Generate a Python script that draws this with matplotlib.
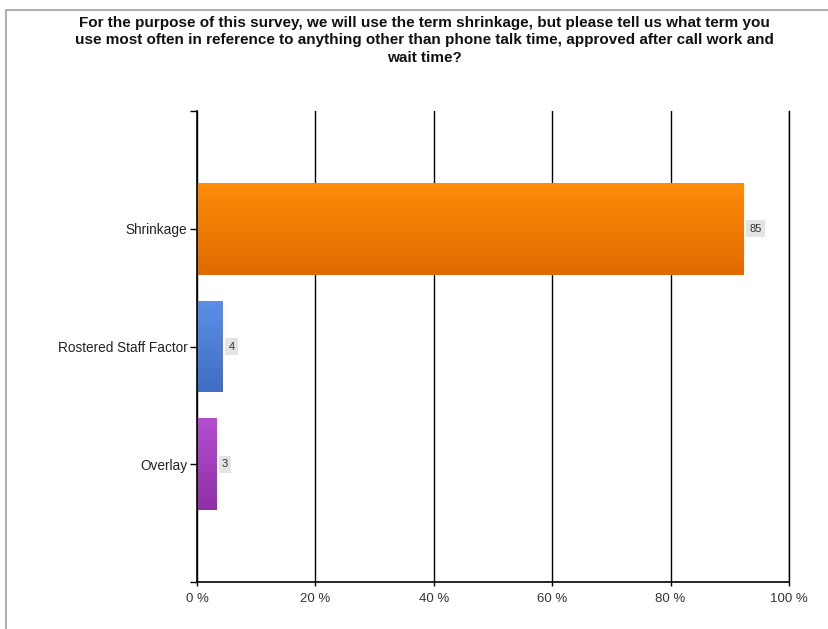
import numpy as np
import matplotlib.pyplot as plt
from matplotlib.colors import LinearSegmentedColormap
from matplotlib.patches import Rectangle

plt.rcParams['font.family'] = ['Liberation Sans', 'DejaVu Sans']

title = ("For the purpose of this survey, we will use the term shrinkage, but please tell us what term you\n"
         "use most often in reference to anything other than phone talk time, approved after call work and\n"
         "wait time?")
categories = ['Shrinkage', 'Rostered Staff Factor', 'Overlay']
counts = [85, 4, 3]
top_colors = ['#ff8c0a', '#5b8fe6', '#b44fd0']
bottom_colors = ['#e06a00', '#3f6ec4', '#8f2fa8']
xtick_vals = [0, 20, 40, 60, 80, 100]

total = sum(counts)
pct = [c / total * 100 for c in counts]

fig = plt.figure(figsize=(8.29, 6.29), dpi=100)
fig.patches.append(Rectangle((6 / 829, -0.1), 1.1, 1 - 10 / 629 + 0.1,
                             transform=fig.transFigure, fill=False,
                             edgecolor='#a0a0a0', linewidth=1.2))
ax = fig.add_axes([197 / 829, 47 / 629, 592 / 829, 471 / 629])

ypos = np.arange(len(categories))
bars = ax.barh(ypos, pct, height=0.78, color=top_colors, zorder=3)

# vertical gradient fill for each bar (lighter on top)
for b, c1, c2 in zip(bars, top_colors, bottom_colors):
    cmap = LinearSegmentedColormap.from_list('g', [c1, c2])
    x0, y0 = b.get_x(), b.get_y()
    w, h = b.get_width(), b.get_height()
    grad = np.linspace(0, 1, 100).reshape(-1, 1)
    im = ax.imshow(grad, cmap=cmap, aspect='auto', zorder=4,
                   extent=[x0, x0 + w, y0 + h, y0], origin='upper')
    im.set_clip_path(b)

for p, c, y in zip(pct, counts, ypos):
    ax.annotate(str(c), (p, y), xytext=(4, 0), textcoords='offset points',
                va='center', ha='left', fontsize=8, color='#333333', zorder=6,
                bbox=dict(boxstyle='square,pad=0.3', fc='#e4e4e4', ec='none'))

ax.set_xlim(0, 100)
ax.set_ylim(3, -1)
ax.set_xticks(xtick_vals)
ax.set_xticklabels([f'{v} %' for v in xtick_vals], fontsize=9.5, color='#333333')
ax.set_yticks([-1, 0, 1, 2, 3])
ax.set_yticklabels([''] + categories + [''], fontsize=9.8, color='#222222')
ax.tick_params(axis='y', length=5, width=1, color='black', pad=2)
ax.tick_params(axis='x', length=3, width=1, color='black', pad=5)
ax.grid(axis='x', color='black', linewidth=1, zorder=1)
ax.axvline(100, color='black', linewidth=1, clip_on=False, zorder=1)
ax.set_axisbelow(True)
for s in ['top', 'right']:
    ax.spines[s].set_visible(False)
ax.spines['left'].set_linewidth(1.2)
ax.spines['bottom'].set_linewidth(1.2)
ax.spines['left'].set_zorder(5)

fig.text(0.512, 1 - 16 / 629, title, ha='center', va='top', fontsize=11,
         fontweight='bold', linespacing=1.3, color='#111111')

fig.savefig('out.png', dpi=100, facecolor='white')
